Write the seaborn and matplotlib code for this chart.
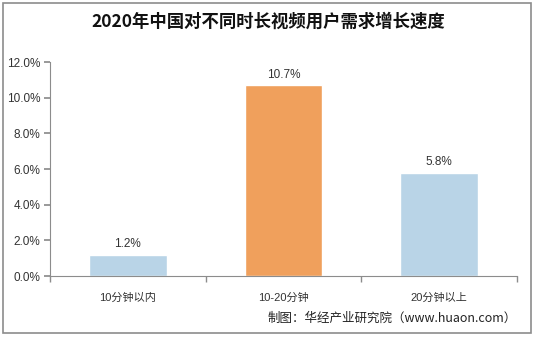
import matplotlib
matplotlib.use("Agg")
import matplotlib.pyplot as plt
from matplotlib.patches import Rectangle
from matplotlib.ticker import FuncFormatter, MultipleLocator
import seaborn as sns
import pandas as pd

categories = ["10分钟以内", "10-20分钟", "20分钟以上"]
growth = [1.2, 10.7, 5.8]
bar_colors = ["#B9D4E7", "#F0A05C", "#B9D4E7"]

sns.set_theme(style="white")
plt.rcParams["font.family"] = ["Liberation Sans", "Noto Sans CJK SC", "DejaVu Sans"]

df = pd.DataFrame({"category": categories, "growth": growth})

fig = plt.figure(figsize=(5.36, 3.37), dpi=100)
ax = fig.add_axes([0.0933, 0.181, 0.8713, 0.635])

sns.barplot(data=df, x="category", y="growth", hue="category",
            palette=bar_colors, width=0.5, legend=False, ax=ax, saturation=1)

ax.set_ylim(0, 12)
ax.set_xlim(-0.5, 2.5)
ax.yaxis.set_major_locator(MultipleLocator(2))
ax.yaxis.set_major_formatter(FuncFormatter(lambda v, _: f"{v:.1f}%"))
ax.set_xlabel("")
ax.set_ylabel("")

for s in ["top", "right"]:
    ax.spines[s].set_visible(False)
for s in ["left", "bottom"]:
    ax.spines[s].set_color("#8C8C8C")
    ax.spines[s].set_linewidth(0.8)

ax.tick_params(axis="y", which="major", left=True, length=4, color="#8C8C8C",
               labelsize=8.5, labelcolor="#333333", pad=3)
ax.tick_params(axis="x", which="major", bottom=False, labelsize=8,
               labelcolor="#333333", pad=6)
# category boundary ticks on the x axis
ax.set_xticks([-0.5, 0.5, 1.5, 2.5], minor=True)
ax.tick_params(axis="x", which="minor", bottom=True, length=4, color="#8C8C8C")

for i, v in enumerate(growth):
    ax.text(i, v + 0.25, f"{v:.1f}%", ha="center", va="bottom",
            fontsize=8.5, color="#333333")

fig.text(0.5, 0.935, "2020年中国对不同时长视频用户需求增长速度",
         ha="center", va="center", fontsize=12.5, fontweight="bold",
         color="#111111", family=["Noto Sans CJK SC", "DejaVu Sans"])
fig.text(0.965, 0.056, "制图：华经产业研究院（www.huaon.com）",
         ha="right", va="center", fontsize=9, color="#222222",
         family=["Noto Sans CJK SC", "DejaVu Sans"])

fig.patches.append(Rectangle((0.005, 0.012), 0.985, 0.98,
                             transform=fig.transFigure, fill=False,
                             edgecolor="#8C8C8C", linewidth=1.2))

fig.savefig("out.png", dpi=100)
